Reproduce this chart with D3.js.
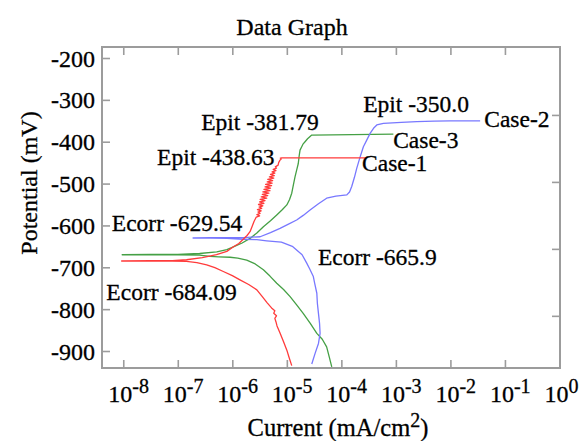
<!DOCTYPE html>
<html>
<head>
<meta charset="utf-8">
<script src="https://cdn.jsdelivr.net/npm/d3@7"></script>
<style>
  html, body { margin: 0; padding: 0; background: #fff; }
  svg { display: block; }
  text { font-family: "Liberation Serif", "Times New Roman", serif; fill: #000; stroke: #000; stroke-width: 0.3; }
</style>
</head>
<body>
<svg id="chart" width="579" height="441"></svg>
<script>
// ---- DATA (log10 of current in mA/cm2, potential in mV) ----
const title = "Data Graph";
const xTickExponents = [-8, -7, -6, -5, -4, -3, -2, -1, 0];
const yTickValues = [-200, -300, -400, -500, -600, -700, -800, -900];
const rightTickValues = [-336, -496, -656, -816];

// Case-1 (red)
const case1LogI = [-4.91,-4.96,-5.0,-5.06,-5.125,-5.18,-5.20,-5.22,-5.19,-5.24,-5.22,-5.28,-5.36,-5.45,-5.55,-5.7,-5.86,-6.0,-6.165,-6.32,-6.47,-6.65,-6.84,-7.1,-7.5,-8.03,
  -7.5,-7.1,-6.84,-6.55,-6.29,-6.1,-5.98,-5.88,-5.80,-5.73,-5.675,-5.63,-5.60,
  -5.56,-5.50,-5.55,-5.49,-5.53,-5.47,-5.54,-5.46,-5.51,-5.44,-5.52,-5.42,-5.50,-5.40,-5.49,-5.37,-5.47,-5.35,-5.45,-5.33,-5.44,-5.31,-5.42,-5.30,-5.40,-5.28,-5.39,-5.27,-5.36,-5.26,-5.35,-5.24,-5.32,-5.23,-5.30,-5.22,-5.27,-5.20,-5.25,-5.19,-5.21,-5.16,
  -5.15,-5.125,-5.10,-5.12,-5.09,-3.53];
const case1E = [-935,-915,-898,-878,-857,-840,-830,-822,-816,-810,-804,-797,-785,-770,-754,-741,-730,-720,-710,-701,-694,-689,-686,-685,-685,-685,
  -684,-684,-682,-677,-670,-662,-651,-643,-633,-624,-615,-600,-590,
  -580,-577,-574,-571,-568,-565,-562,-559,-556,-553,-550,-547,-544,-541,-538,-535,-532,-529,-526,-523,-520,-517,-514,-511,-508,-505,-502,-499,-496,-493,-490,-487,-484,-481,-478,-475,-472,-469,-466,-463,-460,-456,
  -450,-444,-441,-439,-438.6,-438.6];

// Case-2 (blue)
const case2LogI = [-4.543,-4.48,-4.42,-4.39,-4.40,-4.42,-4.44,-4.45,-4.49,-4.514,-4.58,-4.635,-4.72,-4.9,-5.1,-5.37,-5.55,-5.80,-6.1,-6.4,-6.72,
  -6.4,-6.1,-5.8,-5.49,-5.3,-5.125,-4.97,-4.82,-4.70,-4.574,-4.42,-4.27,-4.1,-3.90,-3.85,-3.81,-3.76,-3.717,-3.66,-3.596,-3.53,-3.473,-3.41,-3.35,-3.229,-2.9,-2.617,-2.3,-2.006,-1.455];
const case2E = [-931,-905,-882,-858,-834,-810,-786,-762,-738,-722,-704,-690,-670,-650,-640,-636.7,-634,-633,-631,-630,-630,
  -629,-629,-629,-627,-617,-607,-597,-587,-576,-563,-548,-535,-530,-527,-520,-507,-485,-463,-438,-412,-395,-380,-368,-360,-356,-354,-352,-351,-350,-350];

// Case-3 (green)
const case3LogI = [-4.176,-4.22,-4.27,-4.35,-4.45,-4.57,-4.70,-4.82,-4.94,-5.06,-5.185,-5.31,-5.43,-5.58,-5.736,-5.9,-6.04,-6.25,-6.41,-6.6,-7.0,-7.5,-8.02,
  -7.5,-7.0,-6.6,-6.286,-6.1,-5.98,-5.82,-5.675,-5.55,-5.43,-5.3,-5.185,-5.08,-5.0,-4.95,-4.91,-4.88,-4.85,-4.82,-4.79,-4.775,-4.758,-4.727,-4.70,-4.666,-4.62,-4.543,-3.046];
const case3E = [-938,-915,-890,-872,-858,-834,-810,-790,-770,-753,-738,-721,-706,-692,-683,-678,-676,-675,-674,-671,-670,-670,-670,
  -669,-669,-667,-663,-658,-651,-642,-631,-618,-603,-589,-575,-562,-551,-538,-523,-503,-484,-468,-452,-435,-420,-412,-405,-400,-393,-384,-382];

const seriesNames = ["Case-1", "Case-2", "Case-3"];
const seriesColors = ["#ff3b3b", "#7878ff", "#45a045"];

// annotations: [text, logI anchor, E anchor]
const annotations = [
  ["Epit -381.79", -6.57, -371],
  ["Epit -438.63", -7.38, -455],
  ["Ecorr -629.54", -8.21, -614],
  ["Ecorr -684.09", -8.31, -777],
  ["Ecorr -665.9", -4.43, -694],
  ["Epit -350.0", -3.60, -328],
  ["Case-2", -1.38, -366],
  ["Case-3", -3.05, -414],
  ["Case-1", -3.62, -470]
];

// ---- LAYOUT ----
const svg = d3.select("#chart");
const L = 102, R = 560, T = 47, B = 368;
const x = d3.scaleLog().domain([Math.pow(10, -8.39), Math.pow(10, 0.01)]).range([L, R]);
const y = d3.scaleLinear().domain([-940.6, -173.7]).range([B, T]);

const frameColor = "#9c9c9c";

// curves
const line = d3.line().x(d => x(Math.pow(10, d[0]))).y(d => y(d[1]));
const seriesData = [
  d3.zip(case1LogI, case1E),
  d3.zip(case2LogI, case2E),
  d3.zip(case3LogI, case3E)
];
const clipId = "plotclip";
svg.append("clipPath").attr("id", clipId).append("rect")
  .attr("x", L).attr("y", T).attr("width", R - L).attr("height", B - T);

[2, 1, 0].forEach(i => {
  svg.append("path")
    .datum(seriesData[i])
    .attr("clip-path", `url(#${clipId})`)
    .attr("fill", "none")
    .attr("stroke", seriesColors[i])
    .attr("stroke-width", 1.3)
    .attr("stroke-linejoin", "round")
    .attr("d", line);
});

// axes ticks (inward)
const xTickVals = xTickExponents.map(e => Math.pow(10, e));
const tickLen = 8;
const axB = svg.append("g").attr("transform", `translate(0,${B})`)
  .call(d3.axisBottom(x).tickValues(xTickVals).tickSize(-tickLen).tickFormat(""));
const axT = svg.append("g").attr("transform", `translate(0,${T})`)
  .call(d3.axisTop(x).tickValues(xTickVals).tickSize(-tickLen).tickFormat(""));
const axL = svg.append("g").attr("transform", `translate(${L},0)`)
  .call(d3.axisLeft(y).tickValues(yTickValues).tickSize(-tickLen).tickFormat(""));
const axR = svg.append("g").attr("transform", `translate(${R},0)`)
  .call(d3.axisRight(y).tickValues(rightTickValues).tickSize(-tickLen).tickFormat(""));
[axB, axT, axL, axR].forEach(g => {
  g.select(".domain").remove();
  g.selectAll(".tick line").attr("stroke", frameColor).attr("stroke-width", 1.6);
});

// frame
svg.append("rect").attr("x", L).attr("y", T).attr("width", R - L).attr("height", B - T)
  .attr("fill", "none").attr("stroke", frameColor).attr("stroke-width", 2);

// y tick labels
svg.append("g").selectAll("text").data(yTickValues).join("text")
  .attr("x", 95).attr("y", d => y(d) + 8.5)
  .attr("text-anchor", "end")
  .attr("font-size", 24)
  .text(d => String(d));

// x tick labels with superscripts
const xl = svg.append("g").selectAll("text").data(xTickExponents).join("text")
  .attr("x", d => x(Math.pow(10, d)) - 15)
  .attr("y", 402)
  .attr("font-size", 24);
xl.append("tspan").text("10");
xl.append("tspan").attr("dy", -9).attr("font-size", 20).text(d => d === 0 ? "0" : ("-" + Math.abs(d)));

// title
svg.append("text").attr("x", 292).attr("y", 35).attr("text-anchor", "middle")
  .attr("font-size", 24).text(title);

// axis titles
const xt = svg.append("text").attr("x", 338).attr("y", 436).attr("text-anchor", "middle")
  .attr("font-size", 24.5);
xt.append("tspan").text("Current (mA/cm");
xt.append("tspan").attr("dy", -9).attr("font-size", 20).text("2");
xt.append("tspan").attr("dy", 9).text(")");

svg.append("text").attr("transform", "translate(37,183) rotate(-90)")
  .attr("text-anchor", "middle").attr("font-size", 24).text("Potential (mV)");

// annotations
svg.append("g").selectAll("text").data(annotations).join("text")
  .attr("x", d => x(Math.pow(10, d[1])))
  .attr("y", d => y(d[2]))
  .attr("font-size", 23.5)
  .text(d => d[0]);
</script>
</body>
</html>
